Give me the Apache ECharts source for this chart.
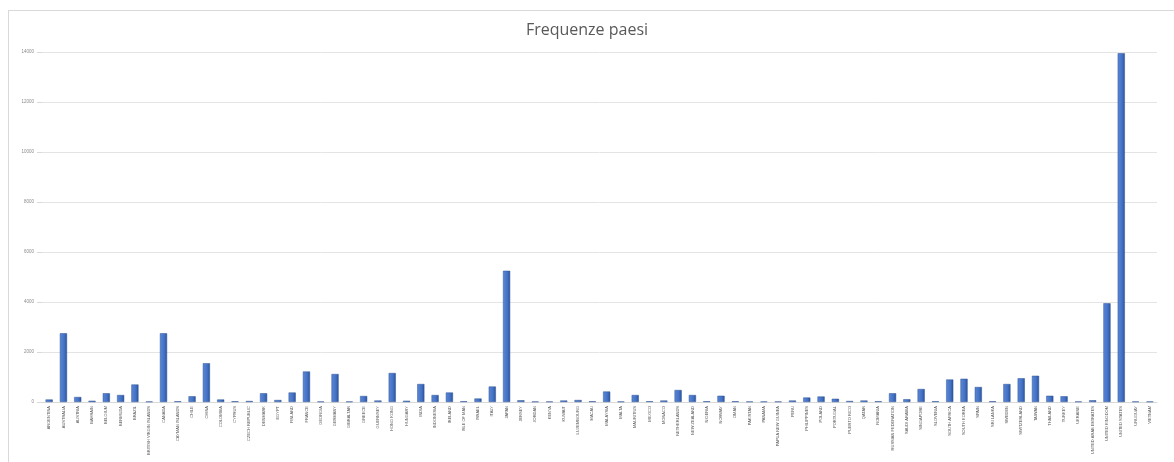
<!DOCTYPE html>
<html>
<head>
<meta charset="utf-8">
<script src="https://cdn.jsdelivr.net/npm/echarts@6/dist/echarts.min.js"></script>
<style>
  html, body { margin: 0; padding: 0; background: #fff; }
  #frame { position: absolute; left: 8px; top: 10px; width: 1170px; height: 460px; border: 1px solid #d9d9d9; box-sizing: border-box; }
  #chart { position: absolute; left: 0; top: 0; width: 1174px; height: 462px; }
</style>
</head>
<body>
<div id="frame"></div>
<div id="chart"></div>
<script>
// Country names (x axis)
const countries = [
  'ARGENTINA', 'AUSTRALIA', 'AUSTRIA', 'BAHRAIN', 'BELGIUM', 'BERMUDA', 'BRAZIL',
  'BRITISH VIRGIN ISLANDS', 'CANADA', 'CAYMAN ISLANDS', 'CHILE', 'CHINA', 'COLOMBIA',
  'CYPRUS', 'CZECH REPUBLIC', 'DENMARK', 'EGYPT', 'FINLAND', 'FRANCE', 'GEORGIA',
  'GERMANY', 'GIBRALTAR', 'GREECE', 'GUERNSEY', 'HONG KONG', 'HUNGARY', 'INDIA',
  'INDONESIA', 'IRELAND', 'ISLE OF MAN', 'ISRAEL', 'ITALY', 'JAPAN', 'JERSEY', 'JORDAN',
  'KENYA', 'KUWAIT', 'LUXEMBOURG', 'MACAU', 'MALAYSIA', 'MALTA', 'MAURITIUS', 'MEXICO',
  'MONACO', 'NETHERLANDS', 'NEW ZEALAND', 'NIGERIA', 'NORWAY', 'OMAN', 'PAKISTAN',
  'PANAMA', 'PAPUA NEW GUINEA', 'PERU', 'PHILIPPINES', 'POLAND', 'PORTUGAL',
  'PUERTO RICO', 'QATAR', 'ROMANIA', 'RUSSIAN FEDERATION', 'SAUDI ARABIA', 'SINGAPORE',
  'SLOVENIA', 'SOUTH AFRICA', 'SOUTH KOREA', 'SPAIN', 'SRI LANKA', 'SWEDEN',
  'SWITZERLAND', 'TAIWAN', 'THAILAND', 'TURKEY', 'UKRAINE', 'UNITED ARAB EMIRATES',
  'UNITED KINGDOM', 'UNITED STATES', 'URUGUAY', 'VIETNAM'
];

// Frequency per country
const frequencies = [
  100, 2750, 200, 50, 350, 280, 700,
  20, 2750, 30, 230, 1550, 100,
  30, 40, 350, 80, 380, 1220, 20,
  1120, 20, 240, 60, 1160, 50, 720,
  280, 380, 30, 140, 620, 5250, 70, 20,
  20, 60, 80, 30, 420, 20, 280, 30,
  60, 480, 280, 30, 250, 30, 20,
  20, 20, 60, 180, 220, 130,
  40, 60, 30, 350, 110, 520,
  30, 900, 930, 600, 30, 720,
  950, 1050, 250, 230, 20, 70,
  3950, 13950, 20, 20
];

const chart = echarts.init(document.getElementById('chart'), null, { renderer: 'canvas' });

chart.setOption({
  animation: false,
  backgroundColor: 'transparent',
  title: {
    text: 'Frequenze paesi',
    left: 'center',
    top: 17,
    textStyle: { fontFamily: 'Open Sans', fontSize: 16, fontWeight: 'normal', color: '#595959' }
  },
  grid: { left: 42, right: 17, top: 52, height: 350, containLabel: false, outerBoundsMode: 'none' },
  xAxis: {
    type: 'category',
    data: countries,
    axisLine: { lineStyle: { color: '#d9d9d9' } },
    axisTick: { show: false },
    axisLabel: {
      interval: 0,
      rotate: 90,
      fontSize: 4,
      color: '#595959',
      fontFamily: 'Liberation Sans',
      margin: 4
    }
  },
  yAxis: {
    type: 'value',
    min: 0,
    max: 14000,
    interval: 2000,
    axisLine: { show: false },
    axisTick: { show: true, length: 5, lineStyle: { color: '#d9d9d9' } },
    axisLabel: {
      fontSize: 4.5,
      color: '#8c8c8c',
      fontFamily: 'Liberation Sans',
      margin: 8,
      formatter: (v) => String(v)
    },
    splitLine: { lineStyle: { color: '#e4e4e4', width: 1 } }
  },
  series: [{
    type: 'bar',
    data: frequencies,
    barWidth: '50%',
    itemStyle: {
      color: new echarts.graphic.LinearGradient(0, 0, 1, 0, [
        { offset: 0, color: '#5b87d8' },
        { offset: 0.6, color: '#4472c4' },
        { offset: 1, color: '#2b529a' }
      ]),
      borderColor: '#2f5597',
      borderWidth: 0.5
    }
  }]
});
</script>
</body>
</html>
